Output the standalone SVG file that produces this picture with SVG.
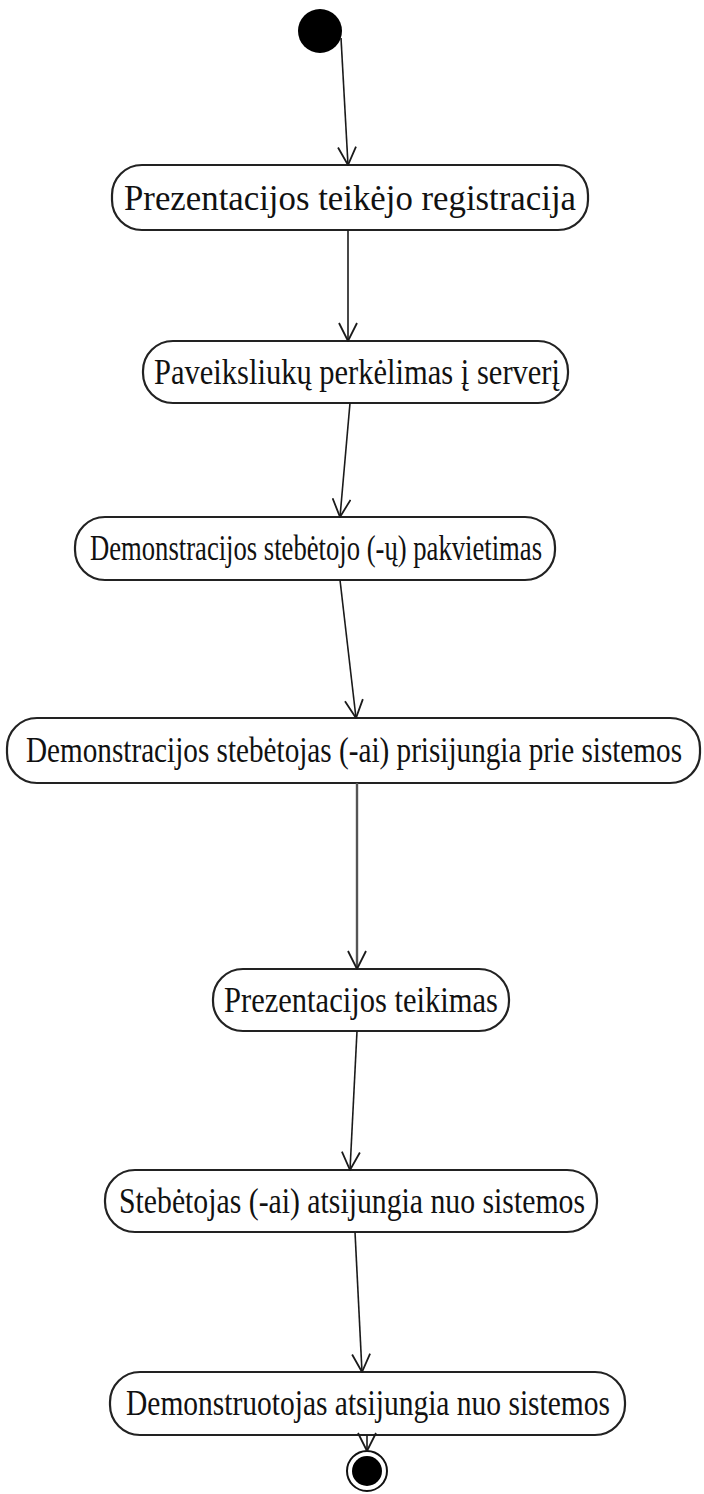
<svg xmlns="http://www.w3.org/2000/svg" width="704" height="1494" viewBox="0 0 704 1494">
  <style>
    .act { fill: #ffffff; stroke: #222222; stroke-width: 2.2; }
    .lbl { font-family: "Liberation Serif", "Times New Roman", serif; font-size: 36px; fill: #111111; text-anchor: middle; dominant-baseline: central; }
    .flow { fill: none; stroke: #1a1a1a; stroke-width: 1.6; marker-end: url(#open); }
    .pseudo { fill: #000000; }
  </style>
  <defs>
    <marker id="open" viewBox="0 0 20 20" refX="19" refY="10" markerWidth="20" markerHeight="20" markerUnits="userSpaceOnUse" orient="auto">
      <path d="M 1 1 L 19 10 L 1 19" fill="none" stroke="#1a1a1a" stroke-width="1.8"/>
    </marker>
  </defs>

  <rect width="704" height="1494" fill="#ffffff"/>

  <!-- initial state -->
  <g id="start">
    <circle class="pseudo" cx="320" cy="31" r="22"/>
  </g>

  <g id="n1">
    <rect class="act" x="112" y="165" width="476" height="65" rx="30" ry="30"/>
    <text class="lbl" x="350" y="198" textLength="452" lengthAdjust="spacingAndGlyphs">Prezentacijos teikėjo registracija</text>
  </g>

  <g id="n2">
    <rect class="act" x="143" y="341" width="425" height="62" rx="30" ry="30"/>
    <text class="lbl" x="357" y="372" textLength="406" lengthAdjust="spacingAndGlyphs">Paveiksliukų perkėlimas į serverį</text>
  </g>

  <g id="n3">
    <rect class="act" x="75" y="517" width="480" height="63" rx="30" ry="30"/>
    <text class="lbl" x="316" y="548" textLength="452" lengthAdjust="spacingAndGlyphs">Demonstracijos stebėtojo (-ų) pakvietimas</text>
  </g>

  <g id="n4">
    <rect class="act" x="7" y="718" width="693" height="65" rx="30" ry="30"/>
    <text class="lbl" x="354" y="750" textLength="656" lengthAdjust="spacingAndGlyphs">Demonstracijos stebėtojas (-ai) prisijungia prie sistemos</text>
  </g>

  <g id="n5">
    <rect class="act" x="213" y="969" width="296" height="62" rx="30" ry="30"/>
    <text class="lbl" x="361" y="1000" textLength="274" lengthAdjust="spacingAndGlyphs">Prezentacijos teikimas</text>
  </g>

  <g id="n6">
    <rect class="act" x="105" y="1170" width="492" height="62" rx="30" ry="30"/>
    <text class="lbl" x="352" y="1201" textLength="466" lengthAdjust="spacingAndGlyphs">Stebėtojas (-ai) atsijungia nuo sistemos</text>
  </g>

  <g id="n7">
    <rect class="act" x="110" y="1372" width="515" height="63" rx="30" ry="30"/>
    <text class="lbl" x="368" y="1403" textLength="484" lengthAdjust="spacingAndGlyphs">Demonstruotojas atsijungia nuo sistemos</text>
  </g>

  <!-- final state -->
  <g id="end">
    <circle cx="367" cy="1471" r="20" fill="#ffffff" stroke="#111111" stroke-width="2"/>
    <circle class="pseudo" cx="367" cy="1471" r="15"/>
  </g>

  <!-- transitions -->
  <g id="connectors">
    <path class="flow" d="M 341 38 L 348 165"/>
    <path class="flow" d="M 348 230 L 348 341"/>
    <path class="flow" d="M 350 403 L 340 517"/>
    <path class="flow" d="M 340 580 L 356 718"/>
    <path class="flow" d="M 357 783 L 357 969" style="stroke:#555555;stroke-width:2.4"/>
    <path class="flow" d="M 357 1031 L 350 1170"/>
    <path class="flow" d="M 355 1232 L 362 1372"/>
    <path class="flow" d="M 367 1435 L 367 1451"/>
  </g>
</svg>
